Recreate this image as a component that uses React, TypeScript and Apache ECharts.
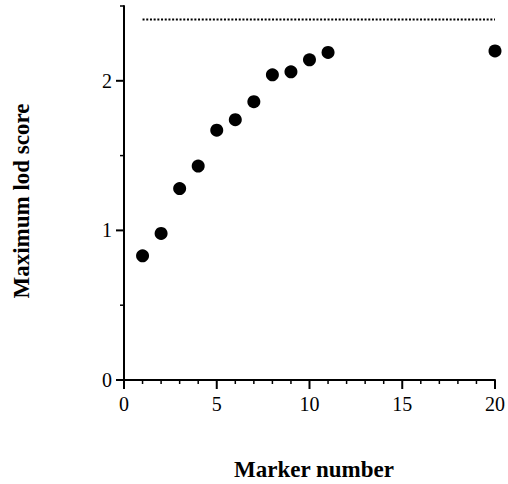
import React, { useEffect, useRef } from "react";
import * as echarts from "echarts";

const markerNumbers = [1, 2, 3, 4, 5, 6, 7, 8, 9, 10, 11, 20];
const maxLodScores = [0.83, 0.98, 1.28, 1.43, 1.67, 1.74, 1.86, 2.04, 2.06, 2.14, 2.19, 2.2];
const thresholdX = [1, 20];
const thresholdY = 2.41;
const xMajorTickValues = [0, 5, 10, 15, 20];
const xMinorTickValues = [1, 2, 3, 4, 6, 7, 8, 9, 11, 12, 13, 14, 16, 17, 18, 19];
const yMajorTickValues = [0, 1, 2];
const yMinorTickValues = [0.5, 1.5, 2.5];
const xTitle = "Marker number";
const yTitle = "Maximum lod score";

export default function App() {
  const ref = useRef<HTMLDivElement>(null);
  useEffect(() => {
    if (!ref.current) return;
    const chart = echarts.init(ref.current, undefined, { renderer: "svg" });
    const font = "Liberation Serif";
    // kind: 0 x major, 1 x minor, 2 y major, 3 y minor
    const tickData: number[][] = [
      ...xMajorTickValues.map((v) => [v, 0]),
      ...xMinorTickValues.map((v) => [v, 1]),
      ...yMajorTickValues.map((v) => [v, 2]),
      ...yMinorTickValues.map((v) => [v, 3]),
    ];
    chart.setOption({
      animation: false,
      backgroundColor: "#fff",
      grid: { left: 124, right: 11, top: 6, bottom: 104 },
      xAxis: {
        type: "value",
        min: 0,
        max: 20,
        interval: 5,
        axisLine: { show: true, onZero: false, lineStyle: { color: "#000", width: 2 } },
        axisTick: { show: false },
        minorTick: { show: false },
        axisLabel: { color: "#000", fontSize: 20, fontFamily: font, margin: 14 },
        splitLine: { show: false },
      },
      yAxis: {
        type: "value",
        min: 0,
        max: 2.5,
        interval: 0.5,
        axisLine: { show: true, onZero: false, lineStyle: { color: "#000", width: 2 } },
        axisTick: { show: false },
        axisLabel: {
          color: "#000",
          fontSize: 20,
          fontFamily: font,
          margin: 12,
          formatter: (v: number) => (yMajorTickValues.includes(v) ? String(v) : ""),
        },
        splitLine: { show: false },
      },
      graphic: [
        {
          type: "text",
          x: 21,
          y: 201,
          rotation: Math.PI / 2,
          style: {
            text: yTitle,
            fontFamily: font,
            fontWeight: "bold",
            fontSize: 23,
            fill: "#000",
            textAlign: "center",
            textVerticalAlign: "middle",
          },
        },
        {
          type: "text",
          x: 314,
          y: 469,
          style: {
            text: xTitle,
            fontFamily: font,
            fontWeight: "bold",
            fontSize: 23,
            fill: "#000",
            textAlign: "center",
            textVerticalAlign: "middle",
          },
        },
      ],
      series: [
        {
          type: "custom",
          clip: false,
          silent: true,
          z: 5,
          data: tickData,
          renderItem: (params: any, api: any) => {
            const v = api.value(0);
            const kind = api.value(1);
            if (kind === 0 || kind === 1) {
              const p = api.coord([v, 0]);
              const len = kind === 0 ? 9 : 4;
              return {
                type: "line",
                shape: { x1: p[0], y1: p[1], x2: p[0], y2: p[1] + len },
                style: { stroke: "#000", lineWidth: kind === 0 ? 2 : 1.5 },
              };
            }
            const p = api.coord([0, v]);
            const len = kind === 2 ? 8 : 4;
            return {
              type: "line",
              shape: { x1: p[0], y1: p[1], x2: p[0] - len, y2: p[1] },
              style: { stroke: "#000", lineWidth: kind === 2 ? 2 : 1.5 },
            };
          },
        },
        {
          type: "line",
          data: thresholdX.map((x) => [x, thresholdY]),
          symbol: "none",
          lineStyle: { color: "#000", width: 2, type: [2, 1.7] },
          silent: true,
        },
        {
          type: "scatter",
          data: markerNumbers.map((x, i) => [x, maxLodScores[i]]),
          symbol: "circle",
          symbolSize: 13,
          itemStyle: { color: "#000", opacity: 1 },
        },
      ],
    });
    return () => chart.dispose();
  }, []);
  return <div ref={ref} style={{ position: "absolute", left: 0, top: 0, width: 508, height: 484 }} />;
}
